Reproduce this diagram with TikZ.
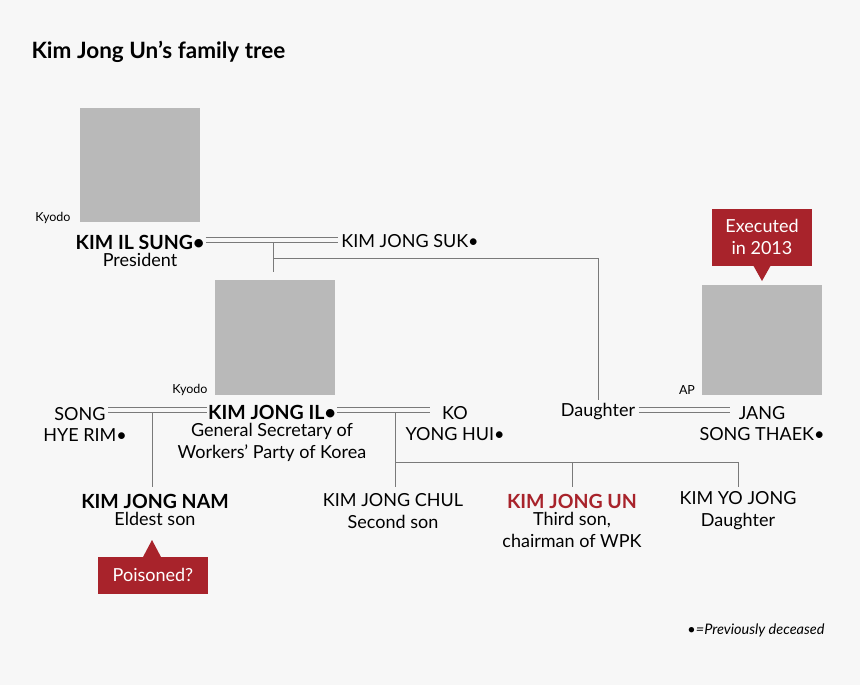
\documentclass[tikz,border=0pt]{standalone}
\usepackage{fontspec}
\setmainfont{Lato}
\usetikzlibrary{positioning}
\definecolor{bg}{HTML}{F7F7F7}
\definecolor{kred}{HTML}{A8232B}
\definecolor{kline}{HTML}{7A7A7A}
\tikzset{
  bold name/.style={font=\fontsize{19.5}{22}\selectfont\bfseries, inner sep=1pt},
  person/.style={font=\fontsize{18}{22}\selectfont, align=center},
  role/.style={font=\fontsize{18}{22}\selectfont, align=center, inner sep=1pt},
  photo/.style={fill=gray!55, draw=none},
  credit/.style={font=\fontsize{12.5}{14}\selectfont},
  link/.style={draw=kline, line width=0.9pt},
  wed/.style={draw=kline, double=bg, double distance=4pt, line width=0.9pt},
  tag/.style={fill=kred, text=white, font=\fontsize{18}{22}\selectfont, align=center}
}
\begin{document}
\begin{tikzpicture}[x=1pt,y=-1pt]
\fill[bg] (0,0) rectangle (860,685);
\useasboundingbox (0,0) rectangle (860,685);
\node[anchor=west, font=\fontsize{22.5}{26}\selectfont\bfseries] (title) at (28,52) {Kim Jong Un’s family tree};

% photos
\fill[photo] (80,108) rectangle (200,222);
\fill[photo] (215,280) rectangle (335,395);
\fill[photo] (702,285) rectangle (822,395);
\node[credit] (c1) at (53,218) {Kyodo};
\node[credit] (c2) at (190,390) {Kyodo};
\node[credit] (c3) at (687,390) {AP};

% first generation
\node[bold name] (ils) at (140,242) {KIM IL SUNG•};
\node[role, below=2pt of ils] (ilsr) {President};
\node[person] (jsuk) at (410,241) {KIM JONG SUK•};
\draw[wed] (ils.east |- 0,240) -- (jsuk.west |- 0,240);
\coordinate (j1) at (273,242);
\coordinate (j2) at (273,258);
\draw[link] (j1) -- (273,272);
\draw[link] (j2) -| (598,400);

% second generation
\node[bold name] (jil) at (272,412) {KIM JONG IL•};
\node[role, below=2pt of jil] (jilr) {General Secretary of\\Workers’ Party of Korea};
\node[person] (shr) at (80,424) {SONG\\[-1pt]\hspace*{10pt}HYE RIM•};
\node[person] (kyh) at (455,424) {KO\\[-1pt]YONG HUI•};
\node[person] (dau) at (598,412) {Daughter};
\node[person] (jst) at (762,424) {JANG\\[-1pt]SONG THAEK•};
\draw[wed] (108,410) -- (jil.west |- 0,410);
\draw[wed] (jil.east |- 0,410) -- (430,410);
\draw[wed] (dau.east |- 0,410) -- (730,410);

% third generation
\node[bold name] (jnam) at (155,501) {KIM JONG NAM};
\node[role, below=2pt of jnam] (jnamr) {Eldest son};
\node[person] (jchul) at (393,511) {KIM JONG CHUL\\Second son};
\node[bold name, text=kred] (jun) at (572,501) {KIM JONG UN};
\node[role, below=2pt of jun] (junr) {Third son,\\chairman of WPK};
\node[person] (yjong) at (738,511) {KIM YO JONG\\Daughter};
\draw[link] (152,412) -- (152,487);
\draw[link] (395,412) -- (395,462) -- (738,462) -- (738,487);
\draw[link] (572,462) -- (572,487);
\draw[link] (395,462) -- (395,487);

% tags
\node[tag, minimum width=110pt, minimum height=37pt] (poison) at (153,575) {Poisoned?};
\fill[kred] (143,557) -- (152,540) -- (161,557) -- cycle;
\node[tag, minimum width=100pt, minimum height=57pt] (exec) at (762,237) {Executed\\in 2013};
\fill[kred] (753,265) -- (762,281) -- (771,265) -- cycle;

\node[anchor=east, font=\fontsize{14.5}{16}\selectfont\itshape] (key) at (828,630) {•=Previously deceased};
\end{tikzpicture}
\end{document}
